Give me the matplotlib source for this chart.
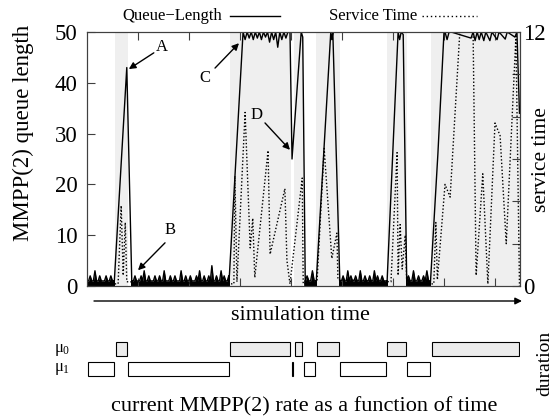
"""MMPP(2) queue length and service time over simulation time,
with the current MMPP(2) rate shown as a timeline underneath.
"""

import numpy as np
import matplotlib
matplotlib.use('Agg')
import matplotlib.pyplot as plt

plt.rcParams['font.family'] = ['Liberation Serif', 'DejaVu Serif']
plt.rcParams['mathtext.fontset'] = 'custom'
plt.rcParams['mathtext.rm'] = 'Liberation Serif'
plt.rcParams['mathtext.it'] = 'Liberation Serif'

# MMPP(2) state changes (simulation time), 0 = mu_0 (slow), 1 = mu_1 (fast)
switch_times = [0, 5.5, 8.0, 28.0, 40.0, 40.6, 42.4, 44.9, 49.6, 58.8, 62.7, 67.5, 84.9]
states = [1, 0, 1, 0, 1, 0, 1, 0, 1, 0, 1, 0]

# quiet periods: queue stays close to empty (start, end, sampled lengths)
quiet_spans = [(0.0, 5.3), (8.8, 27.8), (42.8, 44.9), (49.6, 58.8), (62.7, 67.3)]
quiet_values = [
    [1, 1, 2, 1, 1, 3, 1, 1, 2, 1, 1, 1, 2, 1, 1, 2, 1, 1],
    [1, 1, 2, 1, 1, 1, 2, 1, 3, 1, 1, 2, 1, 1, 1, 2, 1, 1, 2, 1, 1, 3, 1, 1,
     1, 2, 1, 1, 2, 1, 1, 1, 3, 1, 1, 2, 1, 1, 2, 1, 1, 1, 2, 1, 3, 1, 1, 2,
     1, 1, 2, 1, 4, 1, 1, 2, 1, 1, 3, 1, 2, 1, 1, 2],
    [1, 2, 1, 1, 3, 1, 1],
    [1, 1, 2, 1, 1, 3, 1, 2, 1, 1, 2, 1, 1, 3, 1, 1, 2, 1, 1, 2, 1, 1, 3, 1,
     2, 1, 1, 2, 1, 1, 1],
    [1, 2, 1, 1, 3, 1, 1, 2, 1, 1, 2, 1, 3, 1, 1],
]

# bursts while in the slow state
burst1_t = [5.3, 7.8, 8.8]
burst1_q = [0, 43, 0]
burst2_t = [27.8, 30.6, 31.0, 31.4, 31.8, 32.2, 32.6, 33.0, 33.4, 33.8, 34.2, 34.6,
            35.0, 35.4, 35.8, 36.2, 36.6, 37.0, 37.4, 37.8, 38.2, 38.6, 39.0, 39.4,
            39.8, 40.2, 42.0, 42.3, 42.8]
burst2_q = [0, 50, 48.5, 50, 48.8, 50, 48.5, 50, 48.8, 50, 48.5, 50, 49, 50, 48,
            50, 48.5, 50, 47, 50, 48.5, 50, 48.8, 50, 50, 25, 50, 49, 0]
burst3_t = [44.9, 47.8, 48.0, 48.2, 49.6]
burst3_q = [0, 50, 48.5, 50, 0]
burst4_t = [58.8, 61.0, 61.3, 61.6, 62.0, 62.7]
burst4_q = [0, 50, 48.5, 50, 49.5, 0]
burst5_t = [67.3, 68.8, 70.0, 70.2, 70.6, 71.0, 71.4, 75.3, 75.7, 76.1, 76.5, 76.9,
            77.3, 77.8, 78.2, 79.0, 79.4, 80.4, 80.8, 82.0, 82.4, 83.9, 84.3, 84.8]
burst5_q = [0, 26, 50, 50, 48.5, 50, 50, 48.8, 50, 48.3, 50, 48.5, 50, 48.3, 50,
            48.3, 50, 48.5, 50, 48.6, 50, 49, 50, 34]

# service time (right axis)
service_t = [0, 6.1, 6.7, 7.1, 7.5, 7.8, 28.8, 29.0, 29.4, 31.0, 32.0, 32.5, 32.9,
             35.5, 35.9, 38.8, 39.2, 39.8, 42.2, 42.4, 45.1, 46.5, 48.0, 49.0, 49.2,
             59.6, 60.8, 61.0, 61.4, 61.8, 62.4, 62.7, 68.0, 68.4, 68.7, 70.2, 71.2,
             73.1, 75.7, 76.3, 77.6, 78.6, 80.0, 81.0, 82.2, 84.1, 84.8]
service_s = [0.1, 0.1, 3.8, 0.5, 3.0, 0.2, 0.1, 5.2, 0.2, 8.2, 1.8, 3.2, 0.4,
             6.4, 1.5, 4.6, 1.2, 0.1, 5.1, 0.1, 0.2, 6.5, 1.3, 2.5, 0.3,
             0.2, 6.3, 0.5, 2.9, 0.8, 2.4, 0.1, 0.1, 3.0, 0.3, 4.8, 4.2,
             12, 12, 0.5, 5.3, 0.1, 7.7, 7.1, 2.0, 11.8, 0]

# assemble queue series in time order
pieces_t = []
pieces_q = []
quiet_t = []
bursts = [(burst1_t, burst1_q), (burst2_t, burst2_q), (burst3_t, burst3_q),
          (burst4_t, burst4_q), (burst5_t, burst5_q)]
for (a, b), vals, (bt, bq) in zip(quiet_spans, quiet_values, bursts):
    qt = np.linspace(a, b, len(vals))
    quiet_t.append(qt)
    pieces_t.append(qt)
    pieces_q.append(np.array(vals, dtype=float))
    pieces_t.append(np.array(bt))
    pieces_q.append(np.array(bq, dtype=float))
queue_t = np.concatenate(pieces_t)
queue_q = np.concatenate(pieces_q)

W, H = 559, 419
fig = plt.figure(figsize=(W / 100, H / 100), dpi=100)
frame_col = '0.25'

ax = fig.add_axes([87 / W, (H - 286) / H, 433 / W, 254 / H])
for i, st in enumerate(states):
    if st == 0:
        ax.axvspan(switch_times[i], switch_times[i + 1], color='#efefef', lw=0)
# near-empty periods look like a solid black baseline with spikes
for qt, vals in zip(quiet_t, quiet_values):
    ax.fill_between(qt, 0, vals, color='black', lw=0)
ax.plot(queue_t, queue_q, color='black', lw=1.0)
ax.set_xlim(0, 84.9)
ax.set_ylim(0, 50)
ax.set_yticks(range(0, 51, 10))
ax.set_xticks(range(10, 81, 10))
ax.set_xticklabels([])
ax.tick_params(axis='both', direction='in', length=5.5, width=0.8, color=frame_col,
               labelsize=16.5, pad=7, top=True, right=False)
for sp in ax.spines.values():
    sp.set_color(frame_col)
    sp.set_linewidth(0.8)

ax2 = ax.twinx()
ax2.plot(service_t, service_s, color='black', lw=1.0, ls=(0, (1, 1.5)))
ax2.set_ylim(0, 12)
ax2.set_yticks(range(0, 13, 2))
ax2.set_yticklabels(['0', '', '', '', '', '', '12'])
ax2.tick_params(axis='y', direction='in', length=5.5, width=0.8, color=frame_col,
                labelsize=16.5, pad=2)
for sp in ax2.spines.values():
    sp.set_color(frame_col)
    sp.set_linewidth(0.8)

# annotations
arrow = dict(arrowstyle='-|>', color='black', lw=1.0, mutation_scale=10,
             shrinkA=0, shrinkB=0)
ax.text(14.7, 47.0, 'A', fontsize=12, ha='center', va='center')
ax.annotate('', xy=(8.2, 42.7), xytext=(13.1, 45.9), arrowprops=arrow)
ax.text(16.3, 11.0, 'B', fontsize=12, ha='center', va='center')
ax.annotate('', xy=(10.0, 3.1), xytext=(15.3, 8.5), arrowprops=arrow)
ax.text(23.1, 40.9, 'C', fontsize=12, ha='center', va='center')
ax.annotate('', xy=(29.8, 47.8), xytext=(25.1, 42.9), arrowprops=arrow)
ax.text(33.3, 33.7, 'D', fontsize=12, ha='center', va='center')
ax.annotate('', xy=(39.8, 26.8), xytext=(34.9, 32.1), arrowprops=arrow)

# axis titles
fig.text(23 / W, (H - 133) / H, 'MMPP(2) queue length', rotation=90,
         ha='center', va='center', fontsize=16.5)
fig.text(541 / W, (H - 160) / H, 'service time', rotation=90,
         ha='center', va='center', fontsize=15.5)

# key above the plot
fig.text(222 / W, (H - 16) / H, 'Queue\u2212Length', ha='right', va='center', fontsize=12)
fig.add_artist(plt.Line2D([230 / W, 280 / W], [(H - 16) / H] * 2, color='black', lw=1.0))
fig.text(417 / W, (H - 16) / H, 'Service Time', ha='right', va='center', fontsize=12)
fig.add_artist(plt.Line2D([422 / W, 477 / W], [(H - 16) / H] * 2, color='black',
                          lw=1.0, ls=(0, (1, 2))))

# simulation time arrow
ax.annotate('', xy=(522, H - 301), xytext=(94, H - 301), xycoords='figure pixels',
            arrowprops=arrow, annotation_clip=False)
fig.text(300 / W, (H - 315) / H, 'simulation time', ha='center', va='center', fontsize=16)

# rate timeline
ax3 = fig.add_axes([87 / W, (H - 378) / H, 433 / W, 38 / H])
starts = np.array(switch_times[:-1])
ends = np.array(switch_times[1:])
rows = np.array([1 if st == 0 else 0 for st in states])
fills = ['#ececec' if st == 0 else 'white' for st in states]
ax3.barh(rows, ends - starts - 0.25, left=starts + 0.1, height=0.7, color=fills,
         edgecolor='black', linewidth=0.8)
ax3.set_xlim(0, 84.9)
ax3.set_ylim(-0.45, 1.45)
ax3.axis('off')

fig.text(62 / W, (H - 350) / H, r'$\mu_0$', ha='center', va='center', fontsize=12)
fig.text(62 / W, (H - 369) / H, r'$\mu_1$', ha='center', va='center', fontsize=12)
fig.text(545 / W, (H - 363) / H, 'duration', rotation=90, ha='center', va='center',
         fontsize=14)
fig.text(304 / W, (H - 407) / H, 'current MMPP(2) rate as a function of time',
         ha='center', va='center', fontsize=16)

fig.savefig('out.png', dpi=100)
